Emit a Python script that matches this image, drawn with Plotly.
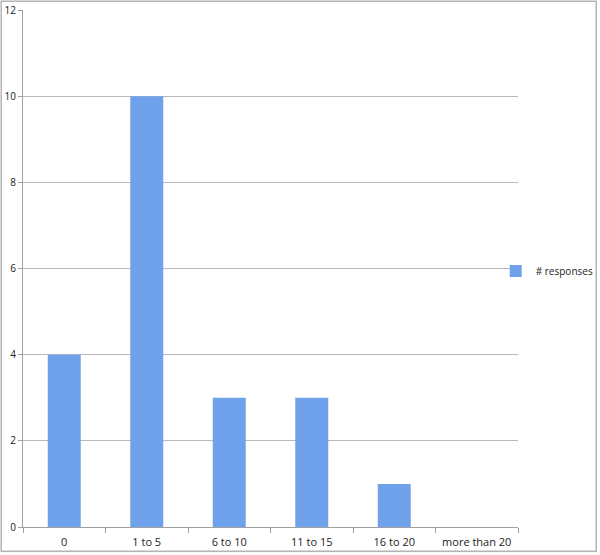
import plotly.graph_objects as go

categories = ["0", "1 to 5", "6 to 10", "11 to 15", "16 to 20", "more than 20"]
responses = [4, 10, 3, 3, 1, 0]
series_name = "# responses"

fig = go.Figure()
fig.add_trace(
    go.Bar(
        x=categories,
        y=responses,
        name=series_name,
        marker_color="#70a2ec",
        marker_line_width=0,
        width=0.4,
        showlegend=True,
    )
)

fig.update_layout(
    width=600,
    height=555,
    margin=dict(l=23, r=82, t=10, b=28, autoexpand=False),
    paper_bgcolor="white",
    plot_bgcolor="white",
    font=dict(family="Open Sans, DejaVu Sans, sans-serif", size=11, color="#222222"),
    showlegend=True,
    legend=dict(
        x=0.955, y=0.495, xanchor="left", yanchor="middle",
        font=dict(size=10), itemwidth=30, bgcolor="rgba(0,0,0,0)",
    ),
    shapes=[
        # grey frame around the whole picture
        dict(type="rect", xref="paper", yref="paper",
             x0=-0.044, x1=1.158, y0=-0.047, y1=1.017,
             line=dict(color="#b4b4b4", width=1.5)),
    ],
)

fig.update_xaxes(
    type="category",
    tickson="boundaries",
    ticks="outside",
    ticklen=5,
    tickcolor="#a0a0a0",
    ticklabelstandoff=5,
    showline=True,
    linecolor="#a0a0a0",
    linewidth=1,
    showgrid=False,
    tickfont=dict(size=11),
)
fig.update_yaxes(
    range=[0, 12],
    dtick=2,
    ticks="outside",
    ticklen=4,
    tickcolor="#a0a0a0",
    showline=True,
    linecolor="#a0a0a0",
    linewidth=1,
    showgrid=True,
    gridcolor="#b8b8b8",
    gridwidth=1,
    zeroline=False,
    tickfont=dict(size=10),
)

# drop the page's default 8px body margin so the figure sits at the window corner
fig.write_html(
    "out.html",
    config={"displayModeBar": False},
    post_script="document.body.style.margin = '0px';",
)
